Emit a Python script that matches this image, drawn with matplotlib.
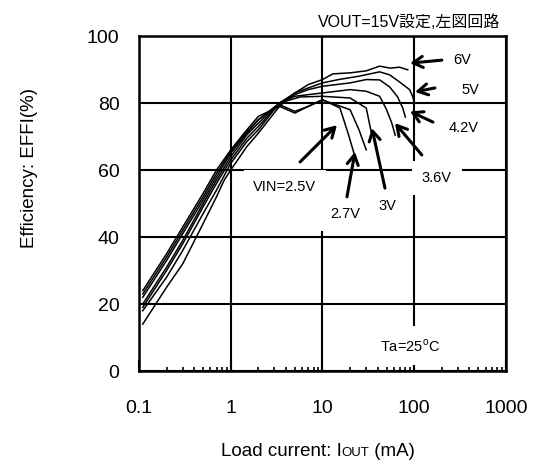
"""
Efficiency vs load current of a boost converter (VOUT = 15 V),
one curve per input voltage, log-scaled load current axis.
"""

import matplotlib
matplotlib.use("Agg")
import matplotlib.pyplot as plt
from matplotlib.transforms import offset_copy

# Load current (mA) and efficiency (%) for each input voltage
vin_labels = ["2.5V", "2.7V", "3V", "3.6V", "4.2V", "5V", "6V"]

iout_25 = [0.11, 0.2, 0.3, 0.5, 0.7, 1, 1.5, 2, 3.4, 5, 7, 10, 15.5, 19, 22.6]
eff_25 = [24, 35, 43, 53, 60, 66, 72, 76, 79, 77, 79, 81, 78.5, 71, 64]

iout_27 = [0.11, 0.2, 0.3, 0.5, 0.7, 1, 1.5, 2, 3.4, 5, 7, 10, 20, 25, 30]
eff_27 = [23, 34, 42, 52, 59, 65.5, 71.5, 75, 79.5, 77.5, 79, 80.9, 78, 72, 66]

iout_30 = [0.11, 0.2, 0.3, 0.5, 0.7, 1, 1.5, 2, 3.4, 5.7, 10, 20, 30, 34]
eff_30 = [22, 33, 41, 51, 58, 65, 71, 75, 80, 81.8, 82, 81.5, 78.5, 71.3]

iout_36 = [0.11, 0.2, 0.3, 0.5, 0.7, 1, 1.5, 2, 3.4, 5, 7, 10, 20, 30, 42, 50, 57, 62]
eff_36 = [20, 31, 39, 50, 57, 64, 70.5, 74, 80, 82, 82.5, 83, 84, 83.5, 82, 78, 74, 70.4]

iout_42 = [0.11, 0.2, 0.3, 0.5, 0.7, 1, 1.5, 2, 3.4, 5, 7, 10, 20, 30, 42, 54, 66, 75, 80]
eff_42 = [19, 30, 38, 49, 56, 63, 69.5, 73, 80, 82.5, 84, 85, 86, 87, 86.9, 84.8, 81.8, 78.5, 75.8]

iout_50 = [0.11, 0.2, 0.3, 0.5, 0.7, 1, 1.5, 2, 3.4, 5, 7, 10, 15, 25, 42, 54, 69, 89, 96, 101]
eff_50 = [18, 28, 36, 47, 54, 62, 68.5, 72, 80, 83, 84.5, 86, 87, 88, 89.3, 88.4, 86.3, 84, 82, 80]

iout_60 = [0.11, 0.2, 0.3, 0.5, 0.7, 0.85, 1, 1.5, 2, 3.4, 5, 7, 10, 13, 20, 30, 42, 55, 69, 85]
eff_60 = [14, 25, 32, 44, 52, 57, 60, 67, 71, 79, 83, 85.5, 87, 88.7, 89, 89.6, 91, 90.4, 90.7, 89.9]

x_ticks = [0.1, 1, 10, 100, 1000]
x_tick_labels = ["0.1", "1", "10", "100", "1000"]
y_ticks = [0, 20, 40, 60, 80, 100]


def main() -> None:
    plt.rcParams["font.family"] = ["Liberation Sans", "Noto Sans CJK JP"]
    plt.rcParams["mathtext.fontset"] = "custom"
    plt.rcParams["mathtext.rm"] = "Liberation Sans"

    fig = plt.figure(figsize=(5.37, 4.70), dpi=100)
    ax = fig.add_axes([0.2588, 0.2106, 0.6834, 0.7128])

    curves = [
        (iout_25, eff_25), (iout_27, eff_27), (iout_30, eff_30),
        (iout_36, eff_36), (iout_42, eff_42), (iout_50, eff_50),
        (iout_60, eff_60),
    ]
    for xs, ys in curves:
        ax.plot(xs, ys, color="black", lw=1.1, zorder=2)

    ax.set_xscale("log")
    ax.set_xlim(0.1, 1000)
    ax.set_ylim(0, 100)
    ax.set_xticks(x_ticks)
    ax.set_xticklabels(x_tick_labels)
    ax.set_yticks(y_ticks)

    ax.grid(True, which="major", color="black", lw=1.5, zorder=1)
    ax.set_axisbelow(True)
    ax.tick_params(axis="x", which="major", direction="in", length=8,
                   width=1.5, pad=21, labelsize=14)
    ax.tick_params(axis="x", which="minor", direction="in", length=3,
                   width=1.2)
    ax.tick_params(axis="y", length=0, pad=14, labelsize=14)
    for sp in ax.spines.values():
        sp.set_linewidth(1.8)

    # Arrows: (label, text pos, arrow tail, arrow tip, white box)
    notes = [
        ("6V", (331, 92.8), (200, 92.8), (90, 91.9), False),
        ("5V", (405, 83.9), (168, 84.5), (102, 83.3), False),
        ("4.2V", (348, 72.5), (160, 74.3), (90, 77.5), False),
        ("3.6V", (177, 57.6), (121, 64.5), (61.7, 74), True),
        ("3V", (50.5, 49.3), (48, 54.6), (34.6, 72.5), False),
        ("2.7V", (17.7, 46.9), (18.5, 52), (22.6, 65.4), True),
        ("VIN=2.5V", (3.9, 55), (5.7, 62.4), (14.4, 73.4), True),
    ]
    arrow = dict(arrowstyle="->,head_length=0.7,head_width=0.4",
                 lw=2.2, color="black", shrinkA=0, shrinkB=0)
    for label, txt, tail, tip, boxed in notes:
        ax.annotate("", xy=tip, xytext=tail, arrowprops=arrow, zorder=4)
        kw = {}
        if boxed:
            kw["bbox"] = dict(facecolor="white", edgecolor="none", pad=7)
        ax.text(txt[0], txt[1], label, ha="center", va="center",
                fontsize=10.5, zorder=3, **kw)

    ax.text(90, 7.5, r"Ta=25$^{\mathrm{o}}$C", ha="center", va="center",
            fontsize=10.5, zorder=3,
            bbox=dict(facecolor="white", edgecolor="none", pad=8))

    fig.text(500 / 537, 1 - 22 / 470, "VOUT=15V設定,左図回路",
             ha="right", va="center", fontsize=11.5)
    fig.text(30 / 537, 1 - 168 / 470, "Efficiency: EFFI(%)",
             rotation=90, ha="center", va="center", fontsize=13.5)

    # x label: "OUT" set smaller on the same baseline as "I"
    parts = [("Load current: I", 13.5), ("OUT", 9.5), (" (mA)", 13.5)]
    renderer = fig.canvas.get_renderer()
    widths = []
    for s, fs in parts:
        t = fig.text(0, 0, s, fontsize=fs)
        widths.append(t.get_window_extent(renderer).width)
        t.remove()
    x0 = 318 - sum(widths) / 2
    base_y = 1 - 456 / 470
    for (s, fs), w in zip(parts, widths):
        tr = offset_copy(fig.transFigure, fig=fig, x=x0, y=0, units="dots")
        fig.text(0, base_y, s, fontsize=fs, ha="left", va="baseline",
                 transform=tr)
        x0 += w

    fig.savefig("out.png", dpi=100)
    plt.close(fig)


if __name__ == "__main__":
    main()
